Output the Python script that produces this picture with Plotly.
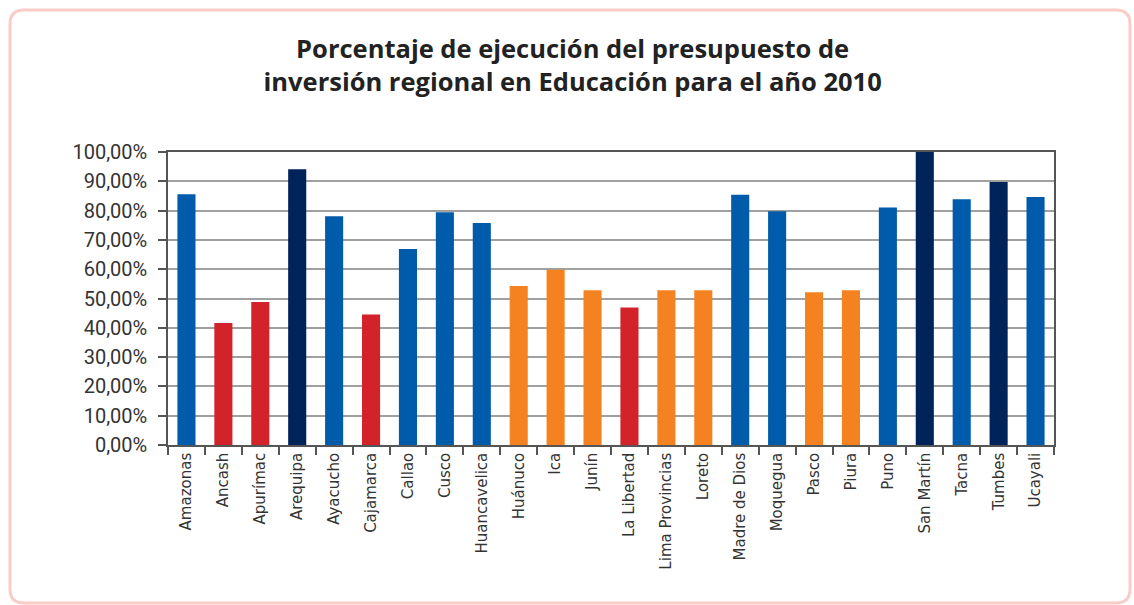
import plotly.graph_objects as go

regiones = ["Amazonas", "Ancash", "Apurímac", "Arequipa", "Ayacucho", "Cajamarca",
            "Callao", "Cusco", "Huancavelica", "Huánuco", "Ica", "Junín",
            "La Libertad", "Lima Provincias", "Loreto", "Madre de Dios", "Moquegua",
            "Pasco", "Piura", "Puno", "San Martín", "Tacna", "Tumbes", "Ucayali"]
ejecucion = [85.6, 41.6, 48.8, 94.1, 78.1, 44.5,
             66.9, 79.4, 75.8, 54.3, 59.8, 52.8,
             46.9, 52.8, 52.8, 85.4, 79.8,
             52.1, 52.8, 81.1, 100.0, 83.9, 89.8, 84.6]
nivel = ["alto", "bajo", "bajo", "maximo", "alto", "bajo",
         "alto", "alto", "alto", "medio", "medio", "medio",
         "bajo", "medio", "medio", "alto", "alto",
         "medio", "medio", "alto", "maximo", "alto", "maximo", "alto"]
y_ticks = list(range(0, 101, 10))
y_labels = [f"{v:.2f}".replace(".", ",") + "%" for v in y_ticks]

colores = {"bajo": "#D2232A", "medio": "#F58220", "alto": "#005BAA", "maximo": "#00235A"}

W, H = 1134, 605
L, R, T, B = 168, 80, 152, 160
PW, PH = W - L - R, H - T - B

fig = go.Figure(go.Bar(
    x=regiones, y=ejecucion,
    marker=dict(color=[colores[n] for n in nivel], line=dict(width=0)),
    hovertemplate="%{x}: %{y:.2f}%<extra></extra>",
))

def px(xp):
    return (xp - L) / PW

def py(yp):
    return (H - B - yp) / PH

# rounded pink frame
x0, x1, y0, y1, r = 10, 1130, 10, 603, 14
path = (f"M {px(x0 + r)},{py(y0)} L {px(x1 - r)},{py(y0)} "
        f"Q {px(x1)},{py(y0)} {px(x1)},{py(y0 + r)} L {px(x1)},{py(y1 - r)} "
        f"Q {px(x1)},{py(y1)} {px(x1 - r)},{py(y1)} L {px(x0 + r)},{py(y1)} "
        f"Q {px(x0)},{py(y1)} {px(x0)},{py(y1 - r)} L {px(x0)},{py(y0 + r)} "
        f"Q {px(x0)},{py(y0)} {px(x0 + r)},{py(y0)} Z")

fig.update_layout(
    width=W, height=H,
    margin=dict(l=L, r=R, t=T, b=B, autoexpand=False),
    paper_bgcolor="white", plot_bgcolor="white",
    bargap=0.51,
    showlegend=False,
    title=dict(
        text="Porcentaje de ejecución del presupuesto de<br>inversión regional en Educación para el año 2010",
        x=0.505, xanchor="center", y=0.904, yanchor="middle",
        font=dict(family="Open Sans, DejaVu Sans, sans-serif", size=25.5, color="#222222", weight="bold"),
    ),
    shapes=[dict(type="path", xref="paper", yref="paper", path=path,
                 line=dict(color="#F9CCC7", width=3), fillcolor="rgba(0,0,0,0)", layer="below")],
    font=dict(family="DejaVu Sans, sans-serif", color="#333333"),
)

fig.update_xaxes(
    type="category", tickangle=-90, tickson="boundaries",
    ticks="outside", ticklen=8, tickcolor="#555555", tickwidth=1.5,
    showline=True, linecolor="#555555", linewidth=1.5, mirror=True,
    showgrid=False,
    tickfont=dict(family="DejaVu Sans, sans-serif", size=15, color="#333333"),
)
fig.update_yaxes(
    range=[0, 100], tickvals=y_ticks, ticktext=y_labels,
    ticks="outside", ticklen=8, tickcolor="#555555", tickwidth=1.5,
    ticklabelstandoff=7,
    showline=True, linecolor="#555555", linewidth=1.5, mirror=True,
    showgrid=True, gridcolor="#A0A0A0", gridwidth=1.5,
    zeroline=False,
    tickfont=dict(family="Liberation Sans Narrow, Roboto, sans-serif", size=20, color="#333333"),
)

fig.write_html("out.html", config={"displayModeBar": False},
               post_script="document.body.style.margin='0px';")
